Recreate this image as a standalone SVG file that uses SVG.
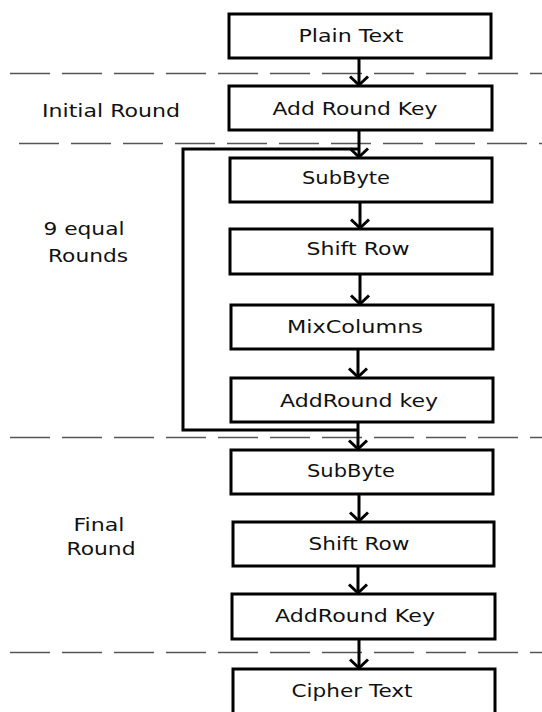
<svg xmlns="http://www.w3.org/2000/svg" width="542" height="712" viewBox="0 0 542 712">
<style>
.box{fill:#fff;stroke:#000;stroke-width:3}
.t,.lbl{font-family:"DejaVu Sans","Open Sans",sans-serif;font-size:18px;fill:#111;text-anchor:middle}
.dash{stroke:#555;stroke-width:1.5;stroke-dasharray:40 12;fill:none}
.c{stroke:#000;stroke-width:3;fill:none}
</style>
<defs>
<marker id="ah" markerWidth="13" markerHeight="22" viewBox="0 0 13 22" refX="10.5" refY="11" orient="auto" markerUnits="userSpaceOnUse">
<path d="M2 2 L10.5 11 L2 20" fill="none" stroke="#000" stroke-width="3"/>
</marker>
</defs>
<rect width="542" height="712" fill="#fff"/>
<g id="separators">
<line class="dash" x1="10" y1="73.5" x2="542" y2="73.5"/>
<line class="dash" x1="19" y1="143.5" x2="542" y2="143.5"/>
<line class="dash" x1="10" y1="437.5" x2="542" y2="437.5"/>
<line class="dash" x1="10" y1="652.5" x2="542" y2="652.5"/>
</g>
<g id="labels">
<text class="lbl" x="111" y="117" textLength="138" lengthAdjust="spacingAndGlyphs">Initial Round</text>
<text class="lbl" x="84" y="235" textLength="81" lengthAdjust="spacingAndGlyphs">9 equal</text>
<text class="lbl" x="88" y="262" textLength="80" lengthAdjust="spacingAndGlyphs">Rounds</text>
<text class="lbl" x="99" y="531" textLength="51" lengthAdjust="spacingAndGlyphs">Final</text>
<text class="lbl" x="101" y="555" textLength="69" lengthAdjust="spacingAndGlyphs">Round</text>
</g>
<g id="connectors">
<line class="c" x1="359" y1="58" x2="359" y2="85" marker-end="url(#ah)"/>
<line class="c" x1="359" y1="130" x2="359" y2="157" marker-end="url(#ah)"/>
<line class="c" x1="360" y1="202" x2="360" y2="228" marker-end="url(#ah)"/>
<line class="c" x1="360" y1="274" x2="360" y2="304" marker-end="url(#ah)"/>
<line class="c" x1="358" y1="349" x2="358" y2="377" marker-end="url(#ah)"/>
<line class="c" x1="358" y1="422" x2="358" y2="449" marker-end="url(#ah)"/>
<line class="c" x1="359" y1="494" x2="359" y2="521" marker-end="url(#ah)"/>
<line class="c" x1="358" y1="566" x2="358" y2="593" marker-end="url(#ah)"/>
<line class="c" x1="359" y1="639" x2="359" y2="668" marker-end="url(#ah)"/>
<polyline class="c" points="358,430 183,430 183,149 359,149"/>
</g>
<g id="plain-text"><rect class="box" x="229" y="14" width="262" height="44"/><text class="t" x="351" y="42" textLength="105" lengthAdjust="spacingAndGlyphs">Plain Text</text></g>
<g id="add-round-key-initial"><rect class="box" x="229" y="86" width="263" height="44"/><text class="t" x="355" y="115" textLength="165" lengthAdjust="spacingAndGlyphs">Add Round Key</text></g>
<g id="subbyte-1"><rect class="box" x="230" y="158" width="262" height="44"/><text class="t" x="346" y="184" textLength="88" lengthAdjust="spacingAndGlyphs">SubByte</text></g>
<g id="shift-row-1"><rect class="box" x="230" y="229" width="262" height="45"/><text class="t" x="358" y="255" textLength="103" lengthAdjust="spacingAndGlyphs">Shift Row</text></g>
<g id="mixcolumns"><rect class="box" x="231" y="305" width="262" height="44"/><text class="t" x="355" y="333" textLength="136" lengthAdjust="spacingAndGlyphs">MixColumns</text></g>
<g id="addround-key-1"><rect class="box" x="231" y="378" width="262" height="44"/><text class="t" x="359" y="407" textLength="158" lengthAdjust="spacingAndGlyphs">AddRound key</text></g>
<g id="subbyte-2"><rect class="box" x="231" y="450" width="262" height="44"/><text class="t" x="351" y="477" textLength="88" lengthAdjust="spacingAndGlyphs">SubByte</text></g>
<g id="shift-row-2"><rect class="box" x="233" y="522" width="261" height="44"/><text class="t" x="359" y="550" textLength="101" lengthAdjust="spacingAndGlyphs">Shift Row</text></g>
<g id="addround-key-final"><rect class="box" x="232" y="594" width="263" height="45"/><text class="t" x="355" y="622" textLength="160" lengthAdjust="spacingAndGlyphs">AddRound Key</text></g>
<g id="cipher-text"><rect class="box" x="233" y="669" width="262" height="46"/><text class="t" x="352" y="697" textLength="121" lengthAdjust="spacingAndGlyphs">Cipher Text</text></g>
</svg>
